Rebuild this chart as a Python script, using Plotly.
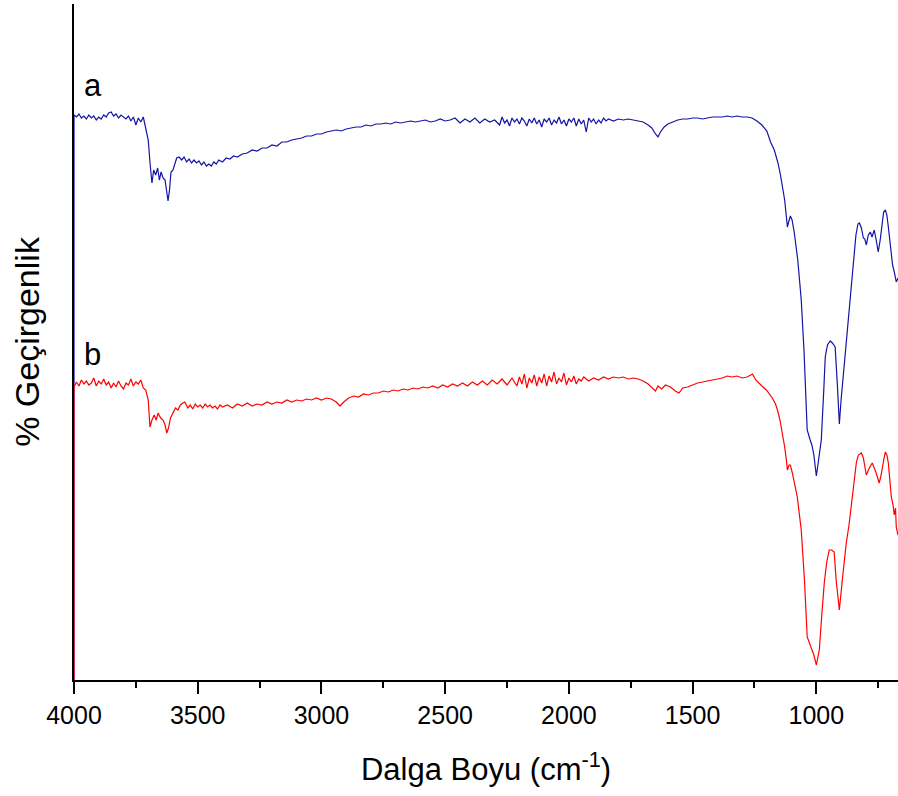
import plotly.graph_objects as go

# Wavenumbers (cm-1) and transmittance (arbitrary units) for spectrum a (blue)
wn_a = [4000, 4000, 3990, 3980, 3970, 3960, 3950, 3940, 3930, 3920, 3910, 3900, 3890, 3880, 3870, 3860, 3850, 3840, 3830, 3820, 3810, 3800, 3790, 3780, 3770, 3760, 3750, 3740, 3730, 3720, 3710, 3700, 3692, 3685, 3678, 3670, 3662, 3655, 3648, 3640, 3632, 3625, 3620, 3614, 3608, 3600, 3592, 3585, 3575, 3565, 3555, 3545, 3535, 3525, 3515, 3505, 3495, 3485, 3475, 3465, 3455, 3445, 3435, 3425, 3415, 3400, 3385, 3370, 3355, 3340, 3320, 3300, 3280, 3260, 3240, 3220, 3200, 3180, 3160, 3140, 3120, 3100, 3080, 3060, 3040, 3020, 3000, 2980, 2960, 2940, 2920, 2900, 2880, 2860, 2840, 2820, 2800, 2780, 2760, 2740, 2720, 2700, 2680, 2660, 2640, 2620, 2600, 2580, 2560, 2540, 2520, 2500, 2480, 2460, 2440, 2420, 2400, 2380, 2360, 2340, 2320, 2300, 2280, 2270, 2260, 2250, 2240, 2230, 2220, 2210, 2200, 2190, 2180, 2170, 2160, 2150, 2140, 2130, 2120, 2110, 2100, 2090, 2080, 2070, 2060, 2050, 2040, 2030, 2020, 2010, 2000, 1990, 1980, 1970, 1960, 1950, 1940, 1930, 1920, 1910, 1900, 1890, 1880, 1870, 1860, 1850, 1840, 1820, 1800, 1780, 1760, 1740, 1720, 1700, 1680, 1665, 1650, 1640, 1630, 1615, 1600, 1580, 1560, 1540, 1520, 1500, 1480, 1460, 1440, 1420, 1400, 1380, 1360, 1340, 1320, 1300, 1280, 1260, 1240, 1220, 1200, 1185, 1170, 1155, 1145, 1137, 1128, 1121, 1117, 1112, 1105, 1098, 1089, 1075, 1061, 1050, 1037, 1025, 1018, 1010, 1000, 992, 980, 970, 964, 955, 944, 935, 924, 915, 907, 900, 887, 875, 860, 850, 840, 832, 826, 818, 810, 804, 798, 790, 782, 775, 766, 758, 750, 742, 735, 728, 721, 715, 709, 700, 692, 685, 677, 670]
t_a = [-50, 565, 563, 566, 562, 564, 561, 565, 562, 564, 560, 563, 561, 565, 563, 567, 568, 564, 566, 562, 565, 563, 561, 564, 559, 563, 555, 562, 558, 563, 550, 540, 515, 497, 510, 505, 512, 500, 508, 502, 500, 485, 479, 490, 508, 510, 518, 522, 523, 520, 523, 518, 521, 517, 520, 517, 519, 515, 518, 514, 516, 514, 518, 516, 520, 518, 522, 521, 524, 523, 526, 527, 530, 529, 532, 532, 535, 534, 538, 538, 540, 541, 542, 544, 544, 546, 546, 548, 549, 550, 549, 551, 552, 553, 553, 555, 554, 556, 556, 557, 556, 558, 557, 558, 559, 558, 559, 560, 558, 559, 561, 559, 560, 562, 557, 561, 558, 562, 557, 561, 558, 560, 555, 563, 557, 560, 554, 562, 558, 561, 556, 562, 559, 554, 561, 557, 562, 556, 560, 553, 561, 558, 562, 555, 560, 557, 563, 556, 560, 554, 561, 558, 562, 554, 561, 556, 560, 548, 562, 558, 561, 556, 560, 557, 562, 559, 561, 559, 561, 560, 561, 560, 559, 558, 555, 552, 546, 543, 548, 553, 556, 558, 560, 561, 561, 562, 562, 561, 562, 563, 563, 563, 564, 563, 564, 563, 563, 562, 559, 555, 549, 538, 530, 517, 505, 493, 480, 463, 453, 458, 464, 460, 447, 420, 380, 330, 250, 240, 235, 225, 204, 218, 240, 290, 323, 335, 339, 337, 333, 295, 256, 280, 317, 350, 390, 420, 445, 456, 457, 452, 442, 441, 435, 445, 448, 443, 450, 440, 428, 440, 455, 468, 470, 465, 453, 430, 415, 408, 398, 402]

# Spectrum b (red)
wn_b = [4000, 4000, 3990, 3980, 3970, 3960, 3950, 3940, 3930, 3920, 3910, 3900, 3890, 3880, 3870, 3860, 3850, 3840, 3830, 3820, 3810, 3800, 3790, 3780, 3770, 3760, 3750, 3740, 3730, 3720, 3710, 3700, 3693, 3685, 3676, 3668, 3660, 3650, 3640, 3632, 3625, 3618, 3610, 3600, 3590, 3580, 3570, 3560, 3552, 3540, 3530, 3520, 3510, 3500, 3490, 3480, 3470, 3460, 3450, 3440, 3430, 3420, 3410, 3400, 3380, 3360, 3340, 3320, 3300, 3280, 3260, 3240, 3220, 3200, 3180, 3160, 3140, 3120, 3100, 3080, 3060, 3040, 3020, 3000, 2980, 2960, 2940, 2925, 2910, 2890, 2870, 2850, 2830, 2810, 2790, 2770, 2750, 2730, 2710, 2690, 2670, 2650, 2630, 2610, 2590, 2570, 2550, 2530, 2510, 2490, 2470, 2450, 2430, 2410, 2390, 2370, 2350, 2330, 2310, 2290, 2270, 2250, 2230, 2210, 2200, 2190, 2180, 2170, 2160, 2150, 2140, 2130, 2120, 2110, 2100, 2090, 2080, 2070, 2060, 2050, 2040, 2030, 2020, 2010, 2000, 1990, 1980, 1970, 1960, 1950, 1940, 1920, 1900, 1880, 1860, 1840, 1820, 1800, 1780, 1760, 1740, 1720, 1700, 1680, 1665, 1650, 1640, 1625, 1610, 1590, 1570, 1555, 1540, 1520, 1500, 1480, 1460, 1440, 1420, 1400, 1380, 1360, 1340, 1320, 1300, 1280, 1258, 1245, 1238, 1220, 1202, 1190, 1178, 1165, 1157, 1147, 1137, 1128, 1121, 1117, 1110, 1105, 1097, 1087, 1077, 1061, 1048, 1037, 1028, 1020, 1010, 1000, 988, 978, 968, 958, 948, 938, 928, 920, 907, 895, 879, 868, 859, 847, 838, 830, 818, 810, 804, 798, 786, 774, 766, 758, 746, 738, 728, 721, 715, 709, 703, 697, 690, 685, 680, 677, 670]
t_b = [-50, 293, 298, 294, 300, 296, 299, 295, 297, 302, 294, 299, 296, 301, 295, 298, 292, 297, 293, 299, 294, 291, 297, 295, 301, 294, 298, 296, 300, 292, 290, 280, 253, 260, 265, 260, 267, 262, 260, 255, 247, 252, 262, 267, 272, 270, 275, 277, 278, 272, 275, 271, 276, 273, 275, 272, 276, 273, 275, 272, 274, 271, 275, 273, 275, 272, 276, 274, 277, 274, 276, 275, 278, 276, 278, 277, 280, 278, 280, 279, 281, 280, 282, 280, 282, 281, 278, 274, 278, 282, 284, 283, 286, 285, 287, 287, 289, 288, 290, 289, 291, 290, 292, 291, 293, 292, 294, 292, 295, 293, 296, 294, 297, 294, 298, 295, 299, 295, 300, 296, 301, 295, 302, 294, 303, 296, 306, 292, 302, 297, 305, 294, 303, 297, 306, 294, 304, 298, 308, 296, 302, 298, 307, 295, 302, 298, 304, 296, 301, 299, 303, 299, 302, 300, 303, 301, 303, 302, 303, 301, 302, 301, 299, 296, 292, 289, 294, 291, 295, 293, 289, 287, 292, 293, 295, 297, 298, 299, 300, 301, 302, 304, 303, 304, 302, 303, 306, 300, 298, 294, 290, 286, 282, 276, 270, 260, 247, 233, 220, 210, 215, 215, 207, 195, 183, 150, 100, 43, 37, 33, 25, 15, 30, 65, 97, 118, 130, 130, 128, 100, 70, 100, 137, 155, 173, 203, 218, 225, 227, 222, 212, 205, 212, 217, 212, 207, 197, 205, 220, 228, 225, 217, 200, 183, 175, 165, 172, 153, 145]

x_ticks = [4000, 3500, 3000, 2500, 2000, 1500, 1000]
labels = ["a", "b"]

FONT = "Arial, Liberation Sans, sans-serif"

fig = go.Figure()
fig.add_trace(go.Scatter(x=wn_a, y=t_a, mode="lines", line=dict(color="#1414a6", width=1.2), showlegend=False))
fig.add_trace(go.Scatter(x=wn_b, y=t_b, mode="lines", line=dict(color="#ff0000", width=1.2), showlegend=False))

fig.add_annotation(x=3968, y=595, text=labels[0], showarrow=False, xanchor="left", yanchor="middle",
                   font=dict(family=FONT, size=31, color="black"))
fig.add_annotation(x=3968, y=326, text=labels[1], showarrow=False, xanchor="left", yanchor="middle",
                   font=dict(family=FONT, size=31, color="black"))

fig.update_layout(
    width=898, height=796,
    margin=dict(l=74, r=0, t=4, b=116),
    plot_bgcolor="white", paper_bgcolor="white",
    font=dict(family=FONT, color="black"),
    xaxis=dict(
        range=[4000, 670], showgrid=False, zeroline=False,
        showline=True, linecolor="black", linewidth=2,
        ticks="outside", ticklen=12, tickwidth=2, tickcolor="black",
        tickvals=x_ticks, ticktext=[str(v) for v in x_ticks],
        tickfont=dict(family=FONT, size=25, color="black"),
        minor=dict(dtick=250, tick0=0, ticks="outside", ticklen=6, tickwidth=2, tickcolor="black", showgrid=False),
        title=dict(text="Dalga Boyu (cm<sup>-1</sup>)", font=dict(family=FONT, size=31, color="black"), standoff=30),
    ),
    yaxis=dict(
        range=[0, 676], showgrid=False, zeroline=False,
        showline=True, linecolor="black", linewidth=2,
        showticklabels=False, ticks="",
        title=dict(text="% Geçirgenlik", font=dict(family=FONT, size=34, color="black"), standoff=22),
    ),
)

fig.write_html("out.html")
